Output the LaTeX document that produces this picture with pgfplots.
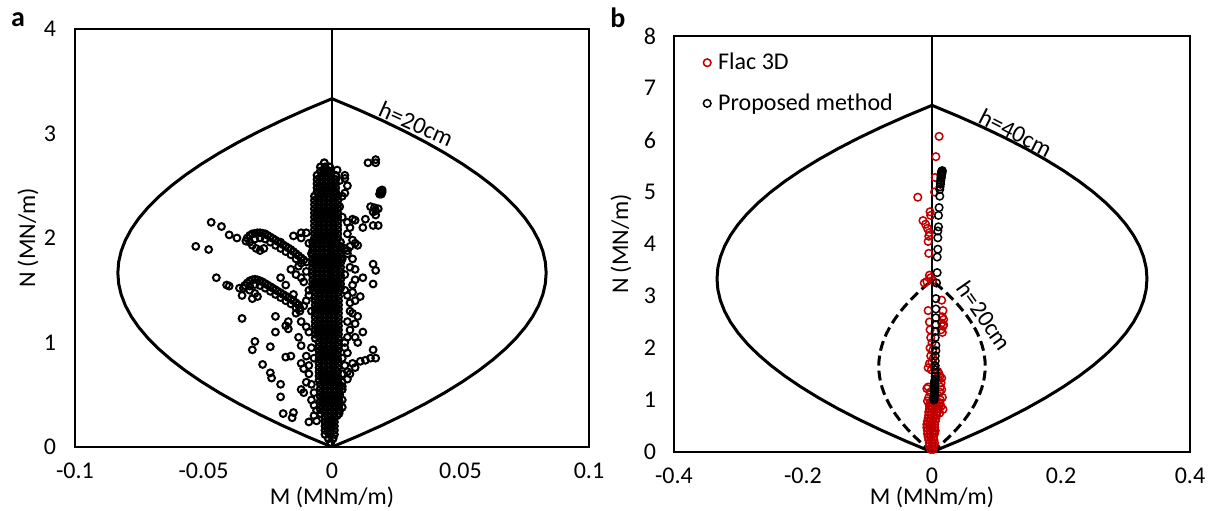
\documentclass[border=0pt]{standalone}
\usepackage{pgfplots}
\usepackage{pgfplotstable}
\pgfplotsset{compat=1.18}
\usepackage{fontspec}
\setmainfont{Carlito}
\definecolor{flacred}{RGB}{192,0,0}
\newcommand{\fs}{\fontsize{12}{14.4}\selectfont}

\pgfplotstableread{
M N
0 0
0.010091 0.1042
0.019531 0.2083
0.028320 0.3125
0.036458 0.4167
0.043945 0.5208
0.050781 0.6250
0.056966 0.7292
0.062500 0.8333
0.067383 0.9375
0.071615 1.0417
0.075195 1.1458
0.078125 1.2500
0.080404 1.3542
0.082031 1.4583
0.083008 1.5625
0.083333 1.6667
0.083008 1.7708
0.082031 1.8750
0.080404 1.9792
0.078125 2.0833
0.075195 2.1875
0.071615 2.2917
0.067383 2.3958
0.062500 2.5000
0.056966 2.6042
0.050781 2.7083
0.043945 2.8125
0.036458 2.9167
0.028320 3.0208
0.019531 3.1250
0.010091 3.2292
0 3.3333
}\envA

\pgfplotstableread{
M N
0 0
0.040365 0.2083
0.078125 0.4167
0.113281 0.6250
0.145833 0.8333
0.175781 1.0417
0.203125 1.2500
0.227865 1.4583
0.250000 1.6667
0.269531 1.8750
0.286458 2.0833
0.300781 2.2917
0.312500 2.5000
0.321615 2.7083
0.328125 2.9167
0.332031 3.1250
0.333333 3.3333
0.332031 3.5417
0.328125 3.7500
0.321615 3.9583
0.312500 4.1667
0.300781 4.3750
0.286458 4.5833
0.269531 4.7917
0.250000 5.0000
0.227865 5.2083
0.203125 5.4167
0.175781 5.6250
0.145833 5.8333
0.113281 6.0417
0.078125 6.2500
0.040365 6.4583
0 6.6667
}\envB

\pgfplotstableread{
M N
0 0
0.009990 0.1031
0.019336 0.2063
0.028037 0.3094
0.036094 0.4125
0.043506 0.5156
0.050273 0.6188
0.056396 0.7219
0.061875 0.8250
0.066709 0.9281
0.070898 1.0313
0.074443 1.1344
0.077344 1.2375
0.079600 1.3406
0.081211 1.4438
0.082178 1.5469
0.082500 1.6500
0.082178 1.7531
0.081211 1.8563
0.079600 1.9594
0.077344 2.0625
0.074443 2.1656
0.070898 2.2688
0.066709 2.3719
0.061875 2.4750
0.056396 2.5781
0.050273 2.6813
0.043506 2.7844
0.036094 2.8875
0.028037 2.9906
0.019336 3.0938
0.009990 3.1969
0 3.3000
}\envC

\begin{document}
\begin{tikzpicture}
\path[use as bounding box] (-37.5pt,-31.5pt) rectangle (570pt,223.5pt);

% ---------------- panel a ----------------
\begin{axis}[
  at={(0pt,0pt)}, anchor=south west,
  width=257pt, height=209pt, scale only axis,
  xmin=-0.1, xmax=0.1, ymin=0, ymax=4,
  xtick={-0.1,-0.05,0,0.05,0.1}, xticklabels={-0.1,-0.05,0,0.05,0.1},
  ytick={0,1,2,3,4}, yticklabels={0,1,2,3,4},
  major tick length=0pt,
  axis line style={line width=1pt},
  tick label style={font=\fs},
  xticklabel style={anchor=center, yshift=-12pt},
  yticklabel style={anchor=center, xshift=-12.5pt},
  xlabel={M (MNm/m)}, ylabel={N (MN/m)},
  label style={font=\fs},
  xlabel style={at={(axis description cs:0.5,-0.1196)}, anchor=center},
  ylabel style={at={(axis description cs:-0.0914,0.5)}, anchor=center},
]
\addplot[black, line width=0.6pt] coordinates {(0,0) (0,4)};
\addplot[black, line width=1.5pt, line cap=round, line join=round] table[x=M,y=N]{\envA};
\addplot[black, line width=1.5pt, line cap=round, line join=round] table[x expr=-\thisrow{M},y=N]{\envA};
% dense core of the cloud
\addplot[only marks, mark=o, mark size=1.7pt, mark options={line width=1.1pt, draw=black}] coordinates {
(-0.0005,0.04) (-0.0014,0.08) (0.0004,0.08)
(-0.0027,0.12) (-0.0009,0.12) (0.0009,0.12)
(-0.0027,0.16) (-0.0009,0.16) (0.0009,0.16)
(-0.0027,0.20) (-0.0009,0.20) (0.0009,0.20)
(-0.0027,0.24) (-0.0009,0.24) (0.0009,0.24)
(-0.0027,0.28) (-0.0009,0.28) (0.0009,0.28)
(-0.0045,0.32) (-0.0027,0.32) (-0.0009,0.32) (0.0009,0.32) (0.0027,0.32)
(-0.0045,0.36) (-0.0027,0.36) (-0.0009,0.36) (0.0009,0.36) (0.0027,0.36)
(-0.0045,0.40) (-0.0027,0.40) (-0.0009,0.40) (0.0009,0.40) (0.0027,0.40)
(-0.0045,0.44) (-0.0027,0.44) (-0.0009,0.44) (0.0009,0.44) (0.0027,0.44)
(-0.0045,0.48) (-0.0027,0.48) (-0.0009,0.48) (0.0009,0.48) (0.0027,0.48)
(-0.0045,0.52) (-0.0027,0.52) (-0.0009,0.52) (0.0009,0.52) (0.0027,0.52)
(-0.0045,0.56) (-0.0027,0.56) (-0.0009,0.56) (0.0009,0.56) (0.0027,0.56)
(-0.0045,0.60) (-0.0027,0.60) (-0.0009,0.60) (0.0009,0.60) (0.0027,0.60)
(-0.0050,0.64) (-0.0032,0.64) (-0.0014,0.64) (0.0004,0.64) (0.0022,0.64)
(-0.0050,0.68) (-0.0032,0.68) (-0.0014,0.68) (0.0004,0.68) (0.0022,0.68)
(-0.0050,0.72) (-0.0032,0.72) (-0.0014,0.72) (0.0004,0.72) (0.0022,0.72)
(-0.0050,0.76) (-0.0032,0.76) (-0.0014,0.76) (0.0004,0.76) (0.0022,0.76)
(-0.0050,0.80) (-0.0032,0.80) (-0.0014,0.80) (0.0004,0.80) (0.0022,0.80)
(-0.0050,0.84) (-0.0032,0.84) (-0.0014,0.84) (0.0004,0.84) (0.0022,0.84)
(-0.0050,0.88) (-0.0032,0.88) (-0.0014,0.88) (0.0004,0.88) (0.0022,0.88)
(-0.0050,0.92) (-0.0032,0.92) (-0.0014,0.92) (0.0004,0.92) (0.0022,0.92)
(-0.0050,0.96) (-0.0032,0.96) (-0.0014,0.96) (0.0004,0.96) (0.0022,0.96)
(-0.0050,1.00) (-0.0032,1.00) (-0.0014,1.00) (0.0004,1.00) (0.0022,1.00)
(-0.0065,1.04) (-0.0047,1.04) (-0.0029,1.04) (-0.0011,1.04) (0.0007,1.04) (0.0025,1.04)
(-0.0065,1.08) (-0.0047,1.08) (-0.0029,1.08) (-0.0011,1.08) (0.0007,1.08) (0.0025,1.08)
(-0.0065,1.12) (-0.0047,1.12) (-0.0029,1.12) (-0.0011,1.12) (0.0007,1.12) (0.0025,1.12)
(-0.0065,1.16) (-0.0047,1.16) (-0.0029,1.16) (-0.0011,1.16) (0.0007,1.16) (0.0025,1.16)
(-0.0065,1.20) (-0.0047,1.20) (-0.0029,1.20) (-0.0011,1.20) (0.0007,1.20) (0.0025,1.20)
(-0.0065,1.24) (-0.0047,1.24) (-0.0029,1.24) (-0.0011,1.24) (0.0007,1.24) (0.0025,1.24)
(-0.0065,1.28) (-0.0047,1.28) (-0.0029,1.28) (-0.0011,1.28) (0.0007,1.28) (0.0025,1.28)
(-0.0065,1.32) (-0.0047,1.32) (-0.0029,1.32) (-0.0011,1.32) (0.0007,1.32) (0.0025,1.32)
(-0.0065,1.36) (-0.0047,1.36) (-0.0029,1.36) (-0.0011,1.36) (0.0007,1.36) (0.0025,1.36)
(-0.0065,1.40) (-0.0047,1.40) (-0.0029,1.40) (-0.0011,1.40) (0.0007,1.40) (0.0025,1.40)
(-0.0065,1.44) (-0.0047,1.44) (-0.0029,1.44) (-0.0011,1.44) (0.0007,1.44) (0.0025,1.44)
(-0.0065,1.48) (-0.0047,1.48) (-0.0029,1.48) (-0.0011,1.48) (0.0007,1.48) (0.0025,1.48)
(-0.0075,1.52) (-0.0057,1.52) (-0.0039,1.52) (-0.0021,1.52) (-0.0003,1.52) (0.0015,1.52) (0.0033,1.52)
(-0.0075,1.56) (-0.0057,1.56) (-0.0039,1.56) (-0.0021,1.56) (-0.0003,1.56) (0.0015,1.56) (0.0033,1.56)
(-0.0075,1.60) (-0.0057,1.60) (-0.0039,1.60) (-0.0021,1.60) (-0.0003,1.60) (0.0015,1.60) (0.0033,1.60)
(-0.0075,1.64) (-0.0057,1.64) (-0.0039,1.64) (-0.0021,1.64) (-0.0003,1.64) (0.0015,1.64) (0.0033,1.64)
(-0.0075,1.68) (-0.0057,1.68) (-0.0039,1.68) (-0.0021,1.68) (-0.0003,1.68) (0.0015,1.68) (0.0033,1.68)
(-0.0075,1.72) (-0.0057,1.72) (-0.0039,1.72) (-0.0021,1.72) (-0.0003,1.72) (0.0015,1.72) (0.0033,1.72)
(-0.0075,1.76) (-0.0057,1.76) (-0.0039,1.76) (-0.0021,1.76) (-0.0003,1.76) (0.0015,1.76) (0.0033,1.76)
(-0.0075,1.80) (-0.0057,1.80) (-0.0039,1.80) (-0.0021,1.80) (-0.0003,1.80) (0.0015,1.80) (0.0033,1.80)
(-0.0075,1.84) (-0.0057,1.84) (-0.0039,1.84) (-0.0021,1.84) (-0.0003,1.84) (0.0015,1.84) (0.0033,1.84)
(-0.0075,1.88) (-0.0057,1.88) (-0.0039,1.88) (-0.0021,1.88) (-0.0003,1.88) (0.0015,1.88) (0.0033,1.88)
(-0.0075,1.92) (-0.0057,1.92) (-0.0039,1.92) (-0.0021,1.92) (-0.0003,1.92) (0.0015,1.92) (0.0033,1.92)
(-0.0075,1.96) (-0.0057,1.96) (-0.0039,1.96) (-0.0021,1.96) (-0.0003,1.96) (0.0015,1.96) (0.0033,1.96)
(-0.0068,2.00) (-0.0050,2.00) (-0.0032,2.00) (-0.0014,2.00) (0.0004,2.00) (0.0022,2.00)
(-0.0068,2.04) (-0.0050,2.04) (-0.0032,2.04) (-0.0014,2.04) (0.0004,2.04) (0.0022,2.04)
(-0.0068,2.08) (-0.0050,2.08) (-0.0032,2.08) (-0.0014,2.08) (0.0004,2.08) (0.0022,2.08)
(-0.0068,2.12) (-0.0050,2.12) (-0.0032,2.12) (-0.0014,2.12) (0.0004,2.12) (0.0022,2.12)
(-0.0068,2.16) (-0.0050,2.16) (-0.0032,2.16) (-0.0014,2.16) (0.0004,2.16) (0.0022,2.16)
(-0.0068,2.20) (-0.0050,2.20) (-0.0032,2.20) (-0.0014,2.20) (0.0004,2.20) (0.0022,2.20)
(-0.0068,2.24) (-0.0050,2.24) (-0.0032,2.24) (-0.0014,2.24) (0.0004,2.24) (0.0022,2.24)
(-0.0068,2.28) (-0.0050,2.28) (-0.0032,2.28) (-0.0014,2.28) (0.0004,2.28) (0.0022,2.28)
(-0.0068,2.32) (-0.0050,2.32) (-0.0032,2.32) (-0.0014,2.32) (0.0004,2.32) (0.0022,2.32)
(-0.0068,2.36) (-0.0050,2.36) (-0.0032,2.36) (-0.0014,2.36) (0.0004,2.36) (0.0022,2.36)
(-0.0068,2.40) (-0.0050,2.40) (-0.0032,2.40) (-0.0014,2.40) (0.0004,2.40) (0.0022,2.40)
(-0.0058,2.44) (-0.0040,2.44) (-0.0022,2.44) (-0.0004,2.44) (0.0014,2.44)
(-0.0058,2.48) (-0.0040,2.48) (-0.0022,2.48) (-0.0004,2.48) (0.0014,2.48)
(-0.0058,2.52) (-0.0040,2.52) (-0.0022,2.52) (-0.0004,2.52) (0.0014,2.52)
(-0.0058,2.56) (-0.0040,2.56) (-0.0022,2.56) (-0.0004,2.56) (0.0014,2.56)
(-0.0058,2.60) (-0.0040,2.60) (-0.0022,2.60) (-0.0004,2.60) (0.0014,2.60)
(-0.0045,2.64) (-0.0027,2.64) (-0.0009,2.64)
(-0.0045,2.68) (-0.0027,2.68) (-0.0009,2.68)
(-0.0030,2.72)
};
% scattered points and arms
\addplot[only marks, mark=o, mark size=1.7pt, mark options={line width=1pt, draw=black}] coordinates {
(-0.053,1.92) (-0.047,2.15) (-0.043,2.11) (-0.040,2.03) (-0.037,2.00) (-0.048,1.89)
(-0.045,1.62) (-0.041,1.55) (-0.040,1.54) (-0.036,1.52) (-0.035,1.45) (-0.035,1.23)
(-0.030,1.01) (-0.031,0.93) (-0.024,0.96) (-0.027,0.79) (-0.024,0.71) (-0.0235,0.66)
(-0.020,0.60) (-0.020,0.48) (-0.019,0.32) (-0.015,0.33) (-0.0155,0.28) (-0.009,0.24)
(-0.022,1.10) (-0.018,1.16) (-0.017,1.13) (-0.013,1.05) (-0.012,0.97) (-0.010,0.87)
(-0.016,0.87) (-0.018,0.86) (-0.012,0.80) (-0.009,0.78) (-0.010,0.62) (-0.011,0.52)
(-0.020,1.62) (-0.018,1.55) (-0.015,1.46) (-0.008,1.85) (-0.012,2.05) (-0.015,2.02)
(-0.020,1.96) (-0.022,1.25) (-0.017,1.20) (-0.014,1.28) (-0.011,1.35) (-0.009,1.45)
(-0.012,1.62) (-0.014,1.65) (-0.011,1.58) (-0.016,1.70) (-0.013,1.73) (-0.010,1.68)
(-0.012,1.20) (-0.010,1.15) (-0.009,1.10) (-0.008,1.30) (-0.010,1.40) (-0.009,1.50)
(-0.012,2.00) (-0.009,1.95) (-0.010,2.05) (-0.008,0.95) (-0.007,0.85) (-0.009,0.70)
(-0.008,0.60) (-0.007,0.52) (-0.008,0.45) (-0.007,0.40) (-0.006,0.35) (-0.011,0.75)
(-0.012,0.55) (-0.007,0.30) (-0.006,0.25)
(-0.0335,1.97) (-0.033,2.00) (-0.032,2.025) (-0.031,2.04) (-0.030,2.045) (-0.029,2.05)
(-0.028,2.05) (-0.027,2.045) (-0.026,2.04) (-0.025,2.025) (-0.024,2.01) (-0.023,1.995)
(-0.022,1.98) (-0.021,1.965) (-0.020,1.95) (-0.019,1.935) (-0.018,1.92) (-0.017,1.905)
(-0.016,1.89) (-0.015,1.87) (-0.014,1.85) (-0.013,1.83) (-0.012,1.81) (-0.011,1.79) (-0.010,1.77)
(-0.032,1.96) (-0.030,1.99) (-0.028,2.00) (-0.026,1.99) (-0.024,1.96) (-0.022,1.93)
(-0.020,1.90) (-0.018,1.87) (-0.016,1.84) (-0.014,1.80) (-0.012,1.76)
(-0.031,1.93) (-0.0295,1.90) (-0.028,1.88) (-0.0265,1.90)
(-0.0345,1.52) (-0.034,1.545) (-0.033,1.57) (-0.032,1.59) (-0.031,1.60) (-0.030,1.605)
(-0.029,1.60) (-0.028,1.59) (-0.027,1.58) (-0.026,1.565) (-0.025,1.55) (-0.024,1.535)
(-0.023,1.52) (-0.022,1.505) (-0.021,1.49) (-0.020,1.475) (-0.019,1.46) (-0.018,1.445)
(-0.017,1.43) (-0.016,1.415) (-0.015,1.40) (-0.014,1.38) (-0.013,1.36) (-0.0125,1.33) (-0.0125,1.30)
(-0.032,1.54) (-0.030,1.555) (-0.028,1.545) (-0.026,1.52) (-0.024,1.49) (-0.022,1.46)
(-0.020,1.43) (-0.018,1.40) (-0.016,1.37) (-0.014,1.33)
(-0.032,1.50) (-0.030,1.47) (-0.029,1.44) (-0.031,1.42)
(0.014,2.72) (0.017,2.75) (0.017,2.72)
(0.0185,2.42) (0.019,2.44) (0.0195,2.46) (0.019,2.43) (0.0188,2.45) (0.0192,2.42) (0.0195,2.44)
(0.015,2.30) (0.016,2.25) (0.017,2.22) (0.018,2.28) (0.0165,2.29) (0.017,2.26)
(0.013,2.18) (0.012,2.10) (0.016,2.12) (0.018,2.12) (0.008,2.18) (0.009,2.17)
(0.006,2.15) (0.006,2.04) (0.007,1.92) (0.009,1.95) (0.010,1.93) (0.016,1.75)
(0.017,1.69) (0.016,1.56) (0.012,1.62) (0.009,1.70) (0.006,1.85) (0.005,1.90)
(0.004,1.80) (0.008,1.55) (0.011,1.44) (0.009,1.40) (0.010,1.25) (0.007,1.30)
(0.012,1.10) (0.009,1.05) (0.010,1.00) (0.016,0.93) (0.017,0.85) (0.015,0.85)
(0.013,0.83) (0.011,0.82) (0.009,0.76) (0.007,0.70) (0.006,0.65) (0.004,0.55)
(0.003,0.42) (0.004,0.38) (0.004,0.58) (0.008,0.80) (0.005,1.00) (0.006,1.20)
(0.008,1.48) (0.005,1.50) (0.004,2.20) (0.003,2.55) (0.005,2.57) (0.004,2.40) (0.002,2.65)
(0.005,2.60) (0.006,2.50) (0.005,2.43) (0.003,2.30) (0.007,2.10) (0.008,1.98)
(0.006,1.88) (0.008,1.80) (0.007,1.72) (0.005,1.65) (0.009,1.60) (0.006,1.45)
(0.007,1.38) (0.008,1.28) (0.009,1.18) (0.007,1.12) (0.006,1.05) (0.005,0.95)
(0.006,0.90) (0.004,0.85) (0.005,0.78) (0.004,0.70) (0.006,0.72) (0.004,0.62)
(0.003,0.50) (0.004,0.45) (0.003,0.35) (0.002,0.30)
};
\node[rotate=-24, anchor=base, font=\fs, inner sep=0pt] at (axis cs:0.0315,3.02) {h=20cm};
\end{axis}

% ---------------- panel b ----------------
\begin{axis}[
  at={(299.5pt,-2.5pt)}, anchor=south west,
  width=258pt, height=208pt, scale only axis,
  xmin=-0.4, xmax=0.4, ymin=0, ymax=8,
  xtick={-0.4,-0.2,0,0.2,0.4}, xticklabels={-0.4,-0.2,0,0.2,0.4},
  ytick={0,1,2,3,4,5,6,7,8}, yticklabels={0,1,2,3,4,5,6,7,8},
  major tick length=0pt,
  axis line style={line width=1pt},
  tick label style={font=\fs},
  xticklabel style={anchor=center, yshift=-12pt},
  yticklabel style={anchor=center, xshift=-12pt},
  xlabel={M (MNm/m)}, ylabel={N (MN/m)},
  label style={font=\fs},
  xlabel style={at={(axis description cs:0.5,-0.108)}, anchor=center},
  ylabel style={at={(axis description cs:-0.1027,0.5)}, anchor=center},
  legend style={at={(axis description cs:0.05,0.97)}, anchor=north west,
    draw=none, fill=none, font=\fs, inner sep=0pt, row sep=6.5pt,
    /tikz/every even column/.append style={column sep=2pt}},
  legend cell align=left,
  legend image code/.code={\draw[#1] plot coordinates {(3.5pt,0pt)}; \path[draw=none] (0pt,0pt) -- (7pt,0pt);},
]
\addplot[black, line width=0.6pt, forget plot] coordinates {(0,0) (0,8)};
\addplot[black, line width=1.5pt, line cap=round, line join=round, forget plot] table[x=M,y=N]{\envB};
\addplot[black, line width=1.5pt, line cap=round, line join=round, forget plot] table[x expr=-\thisrow{M},y=N]{\envB};
\addplot[black, line width=1.5pt, dash pattern=on 5pt off 2.5pt, forget plot] table[x=M,y=N]{\envC};
\addplot[black, line width=1.5pt, dash pattern=on 5pt off 2.5pt, forget plot] table[x expr=-\thisrow{M},y=N]{\envC};
\addplot[only marks, mark=o, mark size=1.9pt, mark options={line width=0.75pt, draw=flacred}] coordinates {
(-0.002,0.05) (0.002,0.05)
(-0.004,0.11) (0.0,0.11) (0.003,0.11)
(-0.004,0.17) (0.0,0.17) (0.004,0.17)
(-0.005,0.23) (-0.001,0.23) (0.003,0.23)
(-0.006,0.29) (-0.002,0.29) (0.002,0.29)
(-0.007,0.35) (-0.003,0.35) (0.001,0.35) (0.004,0.35)
(-0.007,0.41) (-0.003,0.41) (0.001,0.41) (0.005,0.41)
(-0.008,0.47) (-0.004,0.47) (0.0,0.47) (0.004,0.47)
(-0.008,0.53) (-0.004,0.53) (0.0,0.53) (0.004,0.53)
(-0.007,0.59) (-0.003,0.59) (0.001,0.59) (0.005,0.59)
(-0.006,0.65) (-0.002,0.65) (0.002,0.65) (0.006,0.65)
(-0.005,0.71) (-0.001,0.71) (0.003,0.71) (0.007,0.71)
(-0.005,0.77) (-0.001,0.77) (0.003,0.77) (0.008,0.77)
(-0.004,0.83) (0.0,0.83) (0.004,0.83) (0.010,0.83)
(-0.004,0.89) (0.0,0.89) (0.005,0.89) (0.011,0.89)
(-0.003,0.95) (0.001,0.95) (0.006,0.95) (0.012,0.95)
(-0.006,2.72) (0.015,2.92) (0.017,2.72) (0.016,2.60) (0.018,2.55) (0.015,2.48)
(0.017,2.42) (0.014,2.35) (0.016,2.30) (0.018,2.45) (-0.004,2.50) (-0.003,2.35)
(-0.002,2.20) (0.0,2.10) (-0.003,2.00) (0.001,1.95) (-0.002,1.85) (0.002,1.80)
(-0.004,1.70) (0.0,1.72) (-0.006,1.62) (-0.001,1.58) (0.003,1.65) (0.009,1.55)
(0.011,1.50) (0.012,1.45) (0.010,1.38) (0.015,1.42) (0.014,1.33) (0.013,1.25)
(-0.006,1.25) (-0.008,1.22) (-0.003,1.15) (0.012,1.15) (0.015,1.20) (0.016,1.05)
(0.013,1.00) (0.014,0.88) (0.017,0.82) (0.012,0.75) (0.008,0.90) (-0.005,1.05)
(-0.007,0.98) (-0.003,0.90)
(0.011,6.07) (0.006,5.68) (-0.022,4.90) (0.005,5.28) (0.004,5.00) (-0.014,4.45)
(-0.010,4.38) (-0.007,4.30) (-0.004,4.22) (-0.002,4.55) (-0.003,4.62) (-0.005,4.15)
(-0.006,4.05) (-0.005,3.82) (-0.004,3.40) (-0.002,3.35) (-0.012,3.25) (-0.008,3.28)
(0.001,3.30)
};
\addlegendentry{Flac 3D}
\addplot[only marks, mark=o, mark size=1.9pt, mark options={line width=0.75pt, draw=black}] coordinates {
(0.003,1.00) (0.003,1.03) (0.003,1.06) (0.004,1.09) (0.004,1.12) (0.004,1.15)
(0.004,1.18) (0.004,1.21) (0.004,1.24) (0.004,1.27) (0.004,1.30) (0.004,1.33)
(0.004,1.36) (0.005,1.40) (0.005,1.45) (0.005,1.52) (0.005,1.58) (0.005,1.66)
(0.005,1.75) (0.005,1.85) (0.006,1.95) (0.006,2.05) (0.005,2.20) (0.005,2.32)
(0.006,2.45) (0.006,2.58) (0.006,2.75) (0.006,2.95) (0.007,3.25) (0.008,3.45)
(0.008,3.75) (0.009,3.90) (0.009,4.12) (0.009,4.25) (0.010,4.33) (0.010,4.55)
(0.011,4.70) (0.012,4.92) (0.012,5.05) (0.0125,5.10) (0.013,5.15) (0.013,5.18)
(0.0135,5.22) (0.014,5.26) (0.014,5.28) (0.0145,5.31) (0.014,5.32) (0.015,5.34)
(0.015,5.36) (0.0155,5.38) (0.015,5.40) (0.016,5.41)
};
\addlegendentry{Proposed method}
\node[rotate=-27, anchor=base, font=\fs, inner sep=0pt] at (axis cs:0.124,6.0) {h=40cm};
\node[rotate=-55, anchor=center, font=\fs, inner sep=0pt] at (axis cs:0.081,2.62) {h=20cm};
\end{axis}

\node[font=\fontsize{14}{16}\selectfont\bfseries] at (-28.5pt,213.5pt) {a};
\node[font=\fontsize{14}{16}\selectfont\bfseries] at (271.5pt,214.5pt) {b};
\end{tikzpicture}
\end{document}
